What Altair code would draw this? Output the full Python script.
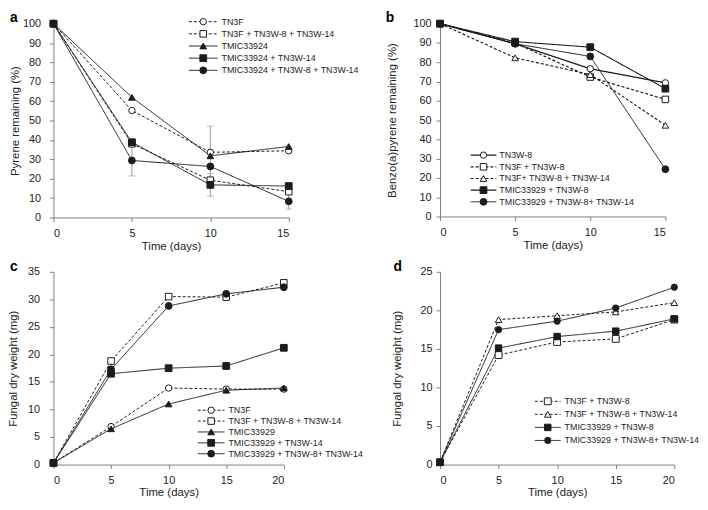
import altair as alt
import pandas as pd

# ---------------- data ----------------
days_ab = [0, 5, 10, 15]
days_cd = [0, 5, 10, 15, 20]

# panel a: Pyrene remaining (%)
a_names = ["TN3F", "TN3F + TN3W-8 + TN3W-14", "TMIC33924",
           "TMIC33924 + TN3W-14", "TMIC33924 + TN3W-8 + TN3W-14"]
a_tn3f = [100, 55.2, 33.6, 34.4]
a_tn3f_mix = [100, 38.0, 19.2, 13.3]
a_tmic = [100, 62.0, 31.8, 36.6]
a_tmic_14 = [100, 38.8, 16.8, 16.2]
a_tmic_mix = [100, 29.4, 26.3, 8.3]
a_err_series = [4, 0, 3, 4]
a_err_day = [5, 10, 10, 15]
a_err_lo = [21.4, 20.0, 11.0, 4.3]
a_err_hi = [37.4, 47.1, 22.6, 12.3]

# panel b: Benzo(a)pyrene remaining (%)
b_names = ["TN3W-8", "TN3F + TN3W-8", "TN3F+ TN3W-8 + TN3W-14",
           "TMIC33929 +  TN3W-8", "TMIC33929 + TN3W-8+ TN3W-14"]
b_tn3w8 = [100, 89.6, 76.6, 69.3]
b_tn3f_8 = [100, 90.0, 72.3, 60.7]
b_tn3f_mix = [100, 82.3, 73.6, 47.3]
b_tmic_8 = [100, 90.7, 87.8, 66.3]
b_tmic_mix = [100, 89.6, 83.0, 24.5]

# panel c: Fungal dry weight (mg)
c_names = ["TN3F", "TN3F + TN3W-8 + TN3W-14", "TMIC33929",
           "TMIC33929 + TN3W-14", "TMIC33929 + TN3W-8+ TN3W-14"]
c_tn3f = [0.3, 6.9, 13.9, 13.7, 13.7]
c_tn3f_mix = [0.3, 18.8, 30.5, 30.4, 33.0]
c_tmic = [0.3, 6.5, 11.0, 13.5, 13.9]
c_tmic_14 = [0.3, 16.5, 17.5, 17.9, 21.2]
c_tmic_mix = [0.3, 17.3, 28.8, 31.0, 32.2]

# panel d: Fungal dry weight (mg)
d_names = ["TN3F + TN3W-8", "TN3F + TN3W-8 + TN3W-14",
           "TMIC33929 + TN3W-8", "TMIC33929 + TN3W-8+ TN3W-14"]
d_tn3f_8 = [0.3, 14.2, 15.9, 16.3, 18.8]
d_tn3f_mix = [0.3, 18.8, 19.3, 19.8, 21.0]
d_tmic_8 = [0.3, 15.1, 16.6, 17.3, 18.9]
d_tmic_mix = [0.3, 17.5, 18.6, 20.3, 23.0]

# ---------------- styles ----------------
INK = "#1c1c1c"
AXIS = "#7f7f7f"
FONT = "Liberation Sans"
STYLES = {
    "oc_dash": ("circle", "white", [3, 2], 1.0),
    "os_dash": ("square", "white", [3, 2], 1.0),
    "ot_dash": ("triangle-up", "white", [3, 2], 1.0),
    "oc_solid": ("circle", "white", [1, 0], 1.3),
    "ft_solid": ("triangle-up", INK, [1, 0], 1.3),
    "fs_solid": ("square", INK, [1, 0], 1.3),
    "fc_solid": ("circle", INK, [1, 0], 1.3),
}
SIZES = {"circle": 42, "square": 48, "triangle-up": 40}


def make_panel(letter, names, styles, days, series, xmax, ymax, ystep,
               width, height, ytitle, ytitle_x, ylabel_pad, xtitle_y,
               leg, lab, errors=None):
    sids = [f"{letter}{i}" for i in range(len(names))]
    rows = []
    for sid, vals in zip(sids, series):
        for d, v in zip(days, vals):
            rows.append({"sid": sid, "day": d, "value": v})
    df = pd.DataFrame(rows)

    shape_s = alt.Scale(domain=sids, range=[STYLES[s][0] for s in styles])
    fill_s = alt.Scale(domain=sids, range=[STYLES[s][1] for s in styles])
    dash_s = alt.Scale(domain=sids, range=[STYLES[s][2] for s in styles])
    width_s = alt.Scale(domain=sids, range=[STYLES[s][3] for s in styles])
    size_s = alt.Scale(domain=sids, range=[SIZES[STYLES[s][0]] for s in styles])

    yvals = list(range(0, ymax + 1, ystep))
    x = alt.X("day:Q", scale=alt.Scale(domain=[0, xmax], nice=False),
              axis=alt.Axis(values=days, tickCount=len(days),
                            title="Time (days)", grid=False,
                            titleX=width / 2, titleY=xtitle_y,
                            titleBaseline="middle", labelPadding=6,
                            tickSize=4, labelOverlap=False))
    y = alt.Y("value:Q", scale=alt.Scale(domain=[0, ymax], nice=False),
              axis=alt.Axis(values=yvals, tickCount=len(yvals),
                            title=ytitle, grid=False, titleX=ytitle_x,
                            titleY=height / 2, titleAngle=270,
                            titleAlign="center", titleBaseline="middle",
                            labelPadding=ylabel_pad, tickSize=4,
                            labelOverlap=False))

    layers = []
    if errors is not None:
        e_ser, e_day, e_lo, e_hi = errors
        edf = pd.DataFrame({"sid": [sids[i] for i in e_ser], "day": e_day,
                            "lo": e_lo, "hi": e_hi})
        eb = alt.Chart(edf)
        layers.append(eb.mark_rule(color="#9a9a9a", strokeWidth=1).encode(
            x=alt.X("day:Q"), y=alt.Y("lo:Q"), y2="hi:Q"))
        layers.append(eb.mark_tick(color="#9a9a9a", orient="horizontal",
                                   size=7, thickness=1).encode(
            x=alt.X("day:Q"), y=alt.Y("lo:Q")))
        layers.append(eb.mark_tick(color="#9a9a9a", orient="horizontal",
                                   size=7, thickness=1).encode(
            x=alt.X("day:Q"), y=alt.Y("hi:Q")))

    base = alt.Chart(df)
    lines = base.mark_line(color=INK).encode(
        x=x, y=y,
        strokeDash=alt.StrokeDash("sid:N", scale=dash_s, legend=None),
        strokeWidth=alt.StrokeWidth("sid:N", scale=width_s, legend=None),
    )
    points = base.mark_point(stroke=INK, strokeWidth=1, opacity=1,
                             fillOpacity=1).encode(
        x="day:Q", y="value:Q",
        shape=alt.Shape("sid:N", scale=shape_s, legend=None),
        fill=alt.Fill("sid:N", scale=fill_s, legend=None),
        size=alt.Size("sid:N", scale=size_s, legend=None),
    )
    layers = [lines] + layers + [points]

    # hand-drawn legend
    lx1, lx2, tx, y0, dy = leg
    ldf = pd.DataFrame({"sid": sids, "label": names,
                        "row": list(range(len(names)))})
    lbase = alt.Chart(ldf).transform_calculate(
        ly=f"{y0} + datum.row * {dy}")
    ly = alt.Y("ly:Q", scale=None, axis=None)
    layers.append(lbase.mark_rule(color=INK).encode(
        x=alt.value(lx1), x2=alt.value(lx2), y=ly,
        strokeDash=alt.StrokeDash("sid:N", scale=dash_s, legend=None),
        strokeWidth=alt.StrokeWidth("sid:N", scale=width_s, legend=None)))
    layers.append(lbase.mark_point(stroke=INK, strokeWidth=1, opacity=1,
                                   fillOpacity=1).encode(
        x=alt.value((lx1 + lx2) / 2), y=ly,
        shape=alt.Shape("sid:N", scale=shape_s, legend=None),
        fill=alt.Fill("sid:N", scale=fill_s, legend=None),
        size=alt.Size("sid:N", scale=size_s, legend=None)))
    layers.append(lbase.mark_text(align="left", baseline="middle",
                                  fontSize=9, color=INK, font=FONT).encode(
        x=alt.value(tx), y=ly, text="label:N"))

    # panel letter
    lab_x, lab_y = lab
    layers.append(alt.Chart(pd.DataFrame({"t": [letter]})).mark_text(
        align="left", baseline="alphabetic", fontSize=14, fontWeight="bold",
        color="#000000", font=FONT).encode(
        x=alt.value(lab_x), y=alt.value(lab_y), text="t:N"))

    return alt.layer(*layers).properties(width=width, height=height)


pa = make_panel("a", a_names,
                ["oc_dash", "os_dash", "ft_solid", "fs_solid", "fc_solid"],
                days_ab, [a_tn3f, a_tn3f_mix, a_tmic, a_tmic_14, a_tmic_mix],
                15, 100, 10, 238, 196, "Pyrene remaining (%)", -38, 9, 29,
                (137, 166, 170, -2, 12.3), (-44, -2),
                errors=(a_err_series, a_err_day, a_err_lo, a_err_hi))
pb = make_panel("b", b_names,
                ["oc_solid", "os_dash", "ot_dash", "fs_solid", "fc_solid"],
                days_ab, [b_tn3w8, b_tn3f_8, b_tn3f_mix, b_tmic_8, b_tmic_mix],
                15, 100, 10, 228, 195, "Benzo(a)pyrene remaining (%)", -48, 5,
                29, (31, 57, 60, 133, 11.8), (-55, -2))
pc = make_panel("c", c_names,
                ["oc_dash", "os_dash", "ft_solid", "fs_solid", "fc_solid"],
                days_cd, [c_tn3f, c_tn3f_mix, c_tmic, c_tmic_14, c_tmic_mix],
                20, 35, 5, 233, 195, "Fungal dry weight (mg)", -40, 10, 28,
                (146, 173, 177, 140, 11), (-44, -1))
pd_ = make_panel("d", d_names,
                 ["os_dash", "ot_dash", "fs_solid", "fc_solid"],
                 days_cd, [d_tn3f_8, d_tn3f_mix, d_tmic_8, d_tmic_mix],
                 20, 25, 5, 237, 195, "Fungal dry weight (mg)", -43, 4, 28,
                 (96, 122, 126, 131, 13.2), (-47, -1))

chart = alt.concat(pa, pb, pc, pd_, columns=2,
                   spacing=alt.RowColnumber(row=55, column=153),
                   bounds="flush").resolve_scale(
    shape="independent", fill="independent", strokeDash="independent",
    strokeWidth="independent", size="independent",
    x="independent", y="independent"
).properties(
    padding=0
).configure_view(stroke=None).configure_axis(
    domainColor=AXIS, tickColor=AXIS, labelColor="#222222",
    titleColor="#222222", labelFont=FONT, titleFont=FONT,
    labelFontSize=11, titleFontSize=11.5, titleFontWeight="normal",
    domainWidth=1, tickWidth=1, labelOverlap=False
).configure_text(font=FONT)

chart.save("out.html", embed_options={"renderer": "svg", "actions": False})
